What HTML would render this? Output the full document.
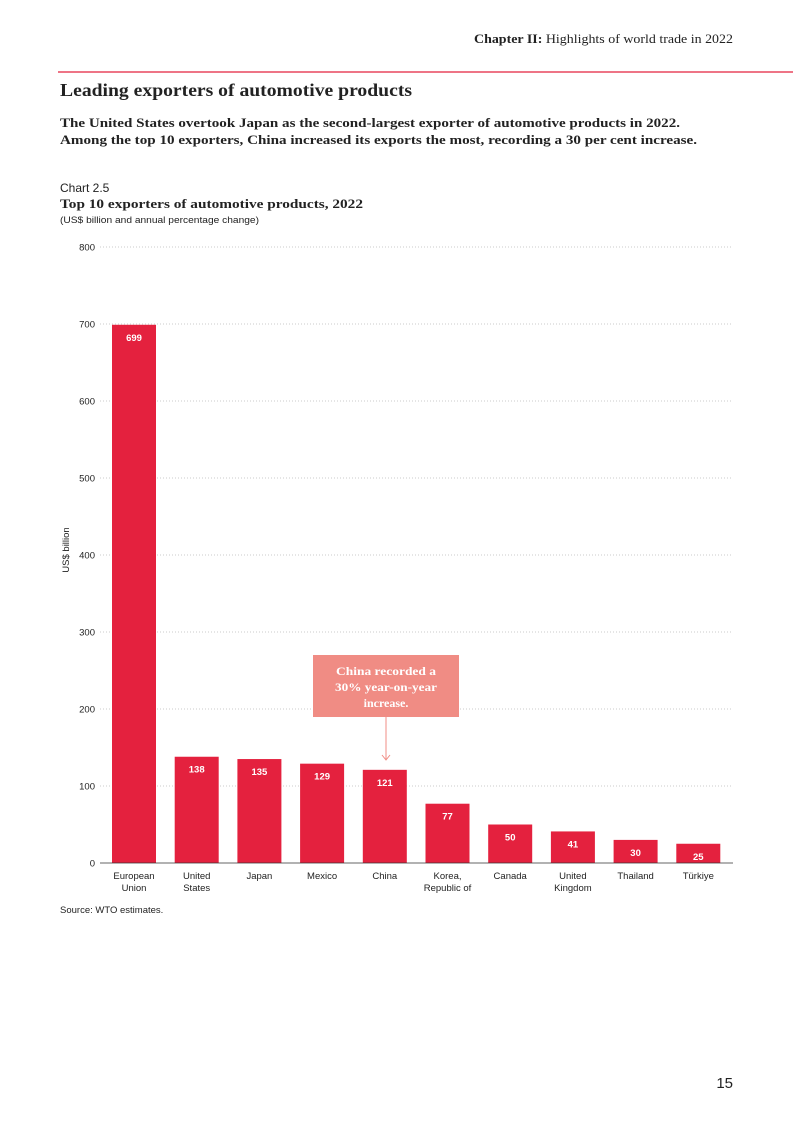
<!DOCTYPE html>
<html><head><meta charset="utf-8"><style>
body{margin:0;background:#fff;}
svg{display:block;}
</style></head><body>
<svg width="793" height="1122" viewBox="0 0 793 1122" xmlns="http://www.w3.org/2000/svg" font-family="Liberation Sans, sans-serif">
<text x="474" y="43" textLength="259" lengthAdjust="spacingAndGlyphs" font-family="Liberation Serif, serif" font-size="12.5" fill="#222"><tspan font-weight="bold">Chapter II:</tspan> Highlights of world trade in 2022</text>
<line x1="58" y1="72" x2="793" y2="72" stroke="#e4213e" stroke-width="1.3"/>
<text x="60" y="96" textLength="352" lengthAdjust="spacingAndGlyphs" font-family="Liberation Serif, serif" font-weight="bold" font-size="17.5" fill="#222">Leading exporters of automotive products</text>
<text x="60" y="127" textLength="620" lengthAdjust="spacingAndGlyphs" font-family="Liberation Serif, serif" font-weight="bold" font-size="13" fill="#222">The United States overtook Japan as the second-largest exporter of automotive products in 2022.</text>
<text x="60" y="144" textLength="637" lengthAdjust="spacingAndGlyphs" font-family="Liberation Serif, serif" font-weight="bold" font-size="13" fill="#222">Among the top 10 exporters, China increased its exports the most, recording a 30 per cent increase.</text>
<text x="60" y="192" font-size="12" fill="#222">Chart 2.5</text>
<text x="60" y="208" textLength="303" lengthAdjust="spacingAndGlyphs" font-family="Liberation Serif, serif" font-weight="bold" font-size="12.5" fill="#222">Top 10 exporters of automotive products, 2022</text>
<text x="60" y="223" textLength="199" lengthAdjust="spacingAndGlyphs" font-size="9" fill="#222">(US$ billion and annual percentage change)</text>
<text transform="translate(69,550) rotate(-90)" text-anchor="middle" font-size="9.5" fill="#222">US$ billion</text>
<g id="chart"></g>
<g>
<rect x="313" y="655" width="146" height="62" fill="#f08c84"/>
<text font-family="Liberation Serif, serif" font-weight="bold" font-size="12" fill="#fff" text-anchor="middle"><tspan x="386" y="675" textLength="100" lengthAdjust="spacingAndGlyphs">China recorded a</tspan><tspan x="386" y="691" textLength="102" lengthAdjust="spacingAndGlyphs">30% year-on-year</tspan><tspan x="386" y="707">increase.</tspan></text>
<line x1="386" y1="717" x2="386" y2="760" stroke="#f08c84" stroke-width="1"/>
<polyline points="382,755 386,760 390,755" fill="none" stroke="#f08c84" stroke-width="1"/>
</g>
<text x="60" y="913" font-size="9.5" fill="#222">Source: WTO estimates.</text>
<text x="733" y="1088" text-anchor="end" font-size="15" fill="#222">15</text>
</svg>
<script>
const categories=[["European","Union"],["United","States"],["Japan"],["Mexico"],["China"],["Korea,","Republic of"],["Canada"],["United","Kingdom"],["Thailand"],["Türkiye"]];
const values=[699,138,135,129,121,77,50,41,30,25];
const yTicks=[0,100,200,300,400,500,600,700,800];
const NS="http://www.w3.org/2000/svg";
const g=document.getElementById('chart');
const x0=100,x1=733,y0=863,yTop=247,yMax=800;
const y=v=>y0-(v/yMax)*(y0-yTop);
const band=62.7;
const bx=i=>112+i*band;
function mk(tag,attrs){const e=document.createElementNS(NS,tag);for(const k in attrs)e.setAttribute(k,attrs[k]);g.appendChild(e);return e;}
yTicks.forEach(t=>{
  if(t>0){const l=mk('line',{x1:x0,x2:x1,y1:y(t),y2:y(t),stroke:'#bbb','stroke-width':0.7,'stroke-dasharray':'1,2'});
  
  }
  const tx=mk('text',{x:95,y:y(t)+3.5,'text-anchor':'end','font-size':9.5,fill:'#222'});
  tx.textContent=t;
  
  
});
values.forEach((v,i)=>{
  const r=mk('rect',{x:bx(i),y:y(v),width:44,height:y0-y(v),fill:'#e4213e'});
  
  
  const lb=mk('text',{x:bx(i)+22,y:y(v)+16,'text-anchor':'middle','font-size':9.5,'font-weight':'bold',fill:'#fff'});
  lb.textContent=v;
  
  
  const ct=mk('text',{'text-anchor':'middle','font-size':9.5,fill:'#222'});
  
  
  categories[i].forEach((s,j)=>{const ts=document.createElementNS(NS,'tspan');ts.setAttribute('x',bx(i)+22);ts.setAttribute('y',879+j*12);ts.textContent=s;ct.appendChild(ts);});
});
const ax=mk('line',{x1:x0,x2:x1,y1:y0,y2:y0,stroke:'#333','stroke-width':0.8});


</script>
</body></html>
